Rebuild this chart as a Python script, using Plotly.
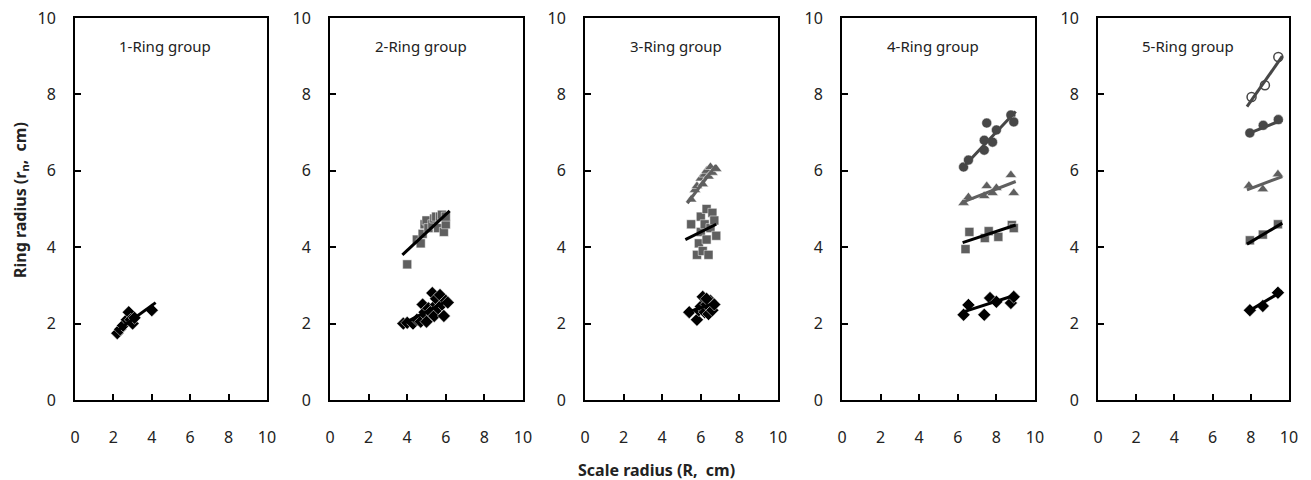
import plotly.graph_objects as go

# ---------------- data ----------------
group_titles = ["1-Ring group", "2-Ring group", "3-Ring group", "4-Ring group", "5-Ring group"]
tick_vals = [0, 2, 4, 6, 8, 10]

# Panel 1
p1_r1_x = [2.2, 2.35, 2.5, 2.7, 2.8, 2.9, 3.0, 3.1, 4.0]
p1_r1_y = [1.75, 1.85, 1.95, 2.1, 2.3, 2.1, 2.0, 2.15, 2.35]
p1_r1_fit_x = [2.15, 4.2]
p1_r1_fit_y = [1.8, 2.55]

# Panel 2
p2_r1_x = [3.8, 4.0, 4.3, 4.5, 4.7, 4.8, 4.9, 5.0, 5.0, 5.1, 5.2, 5.3, 5.4, 5.5, 5.5, 5.6, 5.7, 5.8, 5.9, 6.0, 6.1]
p2_r1_y = [2.0, 2.02, 2.0, 2.1, 2.05, 2.5, 2.3, 2.2, 2.05, 2.4, 2.3, 2.8, 2.2, 2.5, 2.65, 2.4, 2.75, 2.5, 2.2, 2.6, 2.55]
p2_r1_fit_x = [3.8, 6.1]
p2_r1_fit_y = [2.0, 2.6]
p2_r2_x = [4.0, 4.5, 4.7, 4.8, 4.9, 5.0, 5.1, 5.3, 5.4, 5.5, 5.6, 5.7, 5.8, 5.9, 6.0, 6.0]
p2_r2_y = [3.55, 4.2, 4.1, 4.35, 4.6, 4.7, 4.5, 4.6, 4.75, 4.8, 4.5, 4.8, 4.85, 4.4, 4.6, 4.8]
p2_r2_fit_x = [3.75, 6.2]
p2_r2_fit_y = [3.8, 4.95]

# Panel 3
p3_r1_x = [5.4, 5.8, 5.9, 6.0, 6.1, 6.2, 6.3, 6.4, 6.5, 6.6, 6.7, 6.3]
p3_r1_y = [2.3, 2.1, 2.35, 2.45, 2.7, 2.3, 2.5, 2.25, 2.6, 2.35, 2.5, 2.65]
p3_r1_fit_x = [5.2, 6.8]
p3_r1_fit_y = [2.28, 2.55]
p3_r2_x = [5.5, 5.8, 5.9, 6.0, 6.0, 6.1, 6.2, 6.3, 6.3, 6.4, 6.5, 6.6, 6.7, 6.8]
p3_r2_y = [4.6, 3.8, 4.1, 4.4, 4.8, 3.9, 4.6, 5.0, 4.2, 3.8, 4.5, 4.9, 4.7, 4.3]
p3_r2_fit_x = [5.2, 6.8]
p3_r2_fit_y = [4.2, 4.6]
p3_r3_x = [5.5, 5.7, 5.8, 6.0, 6.1, 6.2, 6.3, 6.4, 6.5, 6.6, 6.8]
p3_r3_y = [5.25, 5.5, 5.6, 5.8, 5.65, 5.9, 6.0, 5.85, 6.1, 5.95, 6.05]
p3_r3_fit_x = [5.3, 6.8]
p3_r3_fit_y = [5.15, 6.15]

# Panel 4
p4_r1_x = [6.3, 6.55, 7.37, 7.67, 8.0, 8.75, 8.9]
p4_r1_y = [2.23, 2.49, 2.23, 2.67, 2.57, 2.54, 2.7]
p4_r1_fit_x = [6.25, 9.0]
p4_r1_fit_y = [2.3, 2.75]
p4_r2_x = [6.4, 6.6, 7.4, 7.6, 8.1, 8.8, 8.9]
p4_r2_y = [3.95, 4.4, 4.24, 4.42, 4.27, 4.58, 4.5]
p4_r2_fit_x = [6.25, 9.0]
p4_r2_fit_y = [4.12, 4.58]
p4_r3_x = [6.3, 6.55, 7.37, 7.5, 7.8, 8.0, 8.75, 8.9]
p4_r3_y = [5.16, 5.31, 5.34, 5.6, 5.42, 5.55, 5.89, 5.42]
p4_r3_fit_x = [6.25, 9.0]
p4_r3_fit_y = [5.18, 5.72]
p4_r4_x = [6.3, 6.55, 7.37, 7.37, 7.5, 7.8, 8.0, 8.75, 8.9]
p4_r4_y = [6.1, 6.28, 6.54, 6.8, 7.25, 6.75, 7.07, 7.46, 7.28]
p4_r4_fit_x = [6.25, 9.0]
p4_r4_fit_y = [6.08, 7.55]

# Panel 5
p5_r1_x = [7.95, 8.63, 9.42]
p5_r1_y = [2.35, 2.46, 2.81]
p5_r1_fit_x = [7.8, 9.65]
p5_r1_fit_y = [2.3, 2.85]
p5_r2_x = [7.95, 8.63, 9.42]
p5_r2_y = [4.18, 4.33, 4.6]
p5_r2_fit_x = [7.8, 9.65]
p5_r2_fit_y = [4.08, 4.63]
p5_r3_x = [7.9, 8.63, 9.42]
p5_r3_y = [5.61, 5.52, 5.91]
p5_r3_fit_x = [7.8, 9.65]
p5_r3_fit_y = [5.5, 5.85]
p5_r4_x = [7.95, 8.65, 9.44]
p5_r4_y = [6.99, 7.19, 7.34]
p5_r4_fit_x = [7.8, 9.65]
p5_r4_fit_y = [6.96, 7.33]
p5_r5_x = [8.04, 8.74, 9.44]
p5_r5_y = [7.93, 8.24, 8.98]
p5_r5_fit_x = [7.8, 9.65]
p5_r5_fit_y = [7.68, 9.0]

# ---------------- styles ----------------
BLACK = "#000000"
GRAY = "#5f5f5f"
DARK = "#474747"
styles = {
    "r1": dict(symbol="diamond", color=BLACK, size=10, line_color=BLACK),
    "r2": dict(symbol="square", color=GRAY, size=9, line_color=BLACK),
    "r3": dict(symbol="triangle-up", color=GRAY, size=10, line_color=GRAY),
    "r4": dict(symbol="circle", color=DARK, size=10, line_color=DARK),
    "r5": dict(symbol="circle-open", color=DARK, size=9, line_color=DARK),
}

panels = [
    [("r1", p1_r1_x, p1_r1_y, p1_r1_fit_x, p1_r1_fit_y)],
    [("r1", p2_r1_x, p2_r1_y, p2_r1_fit_x, p2_r1_fit_y),
     ("r2", p2_r2_x, p2_r2_y, p2_r2_fit_x, p2_r2_fit_y)],
    [("r1", p3_r1_x, p3_r1_y, p3_r1_fit_x, p3_r1_fit_y),
     ("r2", p3_r2_x, p3_r2_y, p3_r2_fit_x, p3_r2_fit_y),
     ("r3", p3_r3_x, p3_r3_y, p3_r3_fit_x, p3_r3_fit_y)],
    [("r1", p4_r1_x, p4_r1_y, p4_r1_fit_x, p4_r1_fit_y),
     ("r2", p4_r2_x, p4_r2_y, p4_r2_fit_x, p4_r2_fit_y),
     ("r3", p4_r3_x, p4_r3_y, p4_r3_fit_x, p4_r3_fit_y),
     ("r4", p4_r4_x, p4_r4_y, p4_r4_fit_x, p4_r4_fit_y)],
    [("r1", p5_r1_x, p5_r1_y, p5_r1_fit_x, p5_r1_fit_y),
     ("r2", p5_r2_x, p5_r2_y, p5_r2_fit_x, p5_r2_fit_y),
     ("r3", p5_r3_x, p5_r3_y, p5_r3_fit_x, p5_r3_fit_y),
     ("r4", p5_r4_x, p5_r4_y, p5_r4_fit_x, p5_r4_fit_y),
     ("r5", p5_r5_x, p5_r5_y, p5_r5_fit_x, p5_r5_fit_y)],
]

# the page body has an 8px margin, so work in screen pixels minus that offset
OFF = 8
W, H = 1311 - OFF, 480 - OFF
panel_px = [(75, 267), (330, 523), (585, 778), (842, 1035), (1098, 1289)]
y_top_px, y_bot_px = 18, 400
ML = panel_px[0][0] - OFF
MR = W - (panel_px[-1][1] - OFF)
MT = y_top_px - OFF
MB = H - (y_bot_px - OFF)
PW = W - ML - MR
PH = H - MT - MB
FONT = "Noto Sans"

fig = go.Figure()
layout = dict(
    width=W, height=H,
    margin=dict(l=ML, r=MR, t=MT, b=MB, autoexpand=False),
    paper_bgcolor="white", plot_bgcolor="white",
    showlegend=False,
    font=dict(family=FONT, color="#222222"),
)
annotations = []

for i, series in enumerate(panels):
    n = i + 1
    xa = "x" if n == 1 else f"x{n}"
    ya = "y" if n == 1 else f"y{n}"
    for key, xs, ys, fx, fy in series:
        st = styles[key]
        mk = dict(symbol=st["symbol"], size=st["size"], color=st["color"])
        if st["symbol"] == "circle-open":
            mk["line"] = dict(color=st["color"], width=1.5)
        else:
            mk["line"] = dict(color="white", width=0.5)
        fig.add_trace(go.Scatter(x=xs, y=ys, mode="markers", marker=mk,
                                 xaxis=xa, yaxis=ya, hoverinfo="skip",
                                 cliponaxis=False))
        fig.add_trace(go.Scatter(x=fx, y=fy, mode="lines",
                                 line=dict(color=st["line_color"], width=3),
                                 xaxis=xa, yaxis=ya, hoverinfo="skip"))
    x0, x1 = panel_px[i]
    axis_common = dict(
        showline=True, linecolor="black", linewidth=2, mirror=True,
        showgrid=False, zeroline=False, automargin=False,
        ticks="inside", ticklen=6, tickwidth=1.5, tickcolor="black",
        tickvals=tick_vals, range=[0, 10],
        tickfont=dict(family=FONT, size=16, color="#222222"),
        ticklabeloverflow="allow",
        fixedrange=True,
    )
    layout[("xaxis" if n == 1 else f"xaxis{n}")] = dict(
        axis_common,
        domain=[(x0 - OFF - ML) / PW, (x1 - OFF - ML) / PW], anchor=ya,
        ticklabelstandoff=22,
    )
    layout[("yaxis" if n == 1 else f"yaxis{n}")] = dict(
        axis_common, domain=[0, 1], anchor=xa,
        ticklabelstandoff=14,
    )
    annotations.append(dict(
        text=group_titles[i], x=4.7, y=9.27, xref=xa, yref=ya,
        xanchor="center", yanchor="middle",
        showarrow=False, font=dict(family=FONT, size=15, color="#222222"),
    ))

annotations.append(dict(
    text="<b>Ring radius (r<sub>n</sub>,  cm)</b>", x=20, y=200,
    xref="paper", yref="paper", textangle=-90, showarrow=False,
    xanchor="center", yanchor="middle",
    font=dict(family=FONT, size=16, color="#222222"),
))
annotations.append(dict(
    text="<b>Scale radius (R,  cm)</b>", x=656, y=470,
    xref="paper", yref="paper", showarrow=False,
    xanchor="center", yanchor="middle",
    font=dict(family=FONT, size=16, color="#222222"),
))
# convert screen-pixel positions of the two axis titles to paper coordinates
for a in annotations[-2:]:
    a["x"] = (a["x"] - OFF - ML) / PW
    a["y"] = (H - MB - (a["y"] - OFF)) / PH
layout["annotations"] = annotations
fig.update_layout(**layout)
fig.write_html("out.html")
